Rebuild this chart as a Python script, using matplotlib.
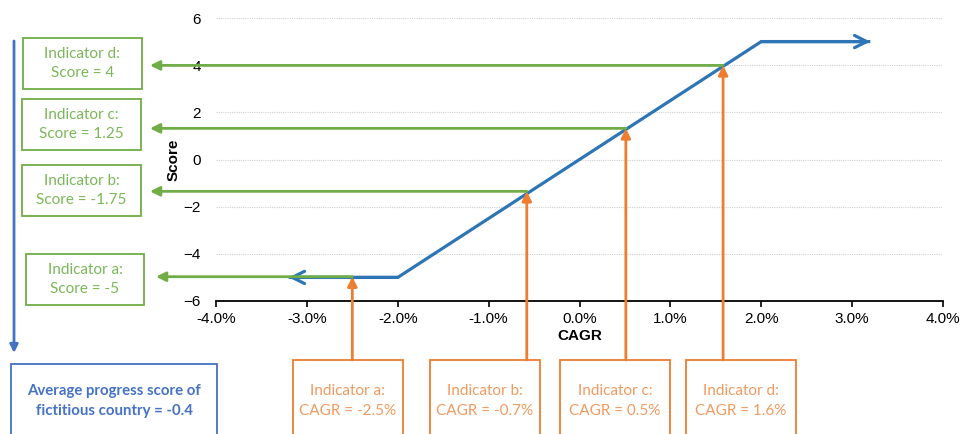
import matplotlib.pyplot as plt
from matplotlib.patches import Rectangle
from matplotlib.ticker import FuncFormatter

plt.rcParams['font.family'] = 'Liberation Sans'

# Score curve (CAGR in %, score)
curve_x = [-3.2, -2.0, 2.0, 3.2]
curve_y = [-5, -5, 5, 5]

# Indicator points as drawn on the curve
ind_names = ['a', 'b', 'c', 'd']
ind_cagr = [-2.5, -0.58, 0.51, 1.58]
ind_score = [-4.97, -1.35, 1.32, 3.99]
cagr_labels = ['-2.5%', '-0.7%', '0.5%', '1.6%']
score_labels = ['-5', '-1.75', '1.25', '4']
avg_score = '-0.4'

blue = '#2E75B6'
blue2 = '#4472C4'
green = '#70AD47'
green_txt = '#7AB758'
orange = '#ED7D31'
orange_txt = '#F09A60'
box_font = 'Lato'

W, H = 961, 434
fig = plt.figure(figsize=(W / 100, H / 100), dpi=100)
ax = fig.add_axes([216 / W, 1 - 301 / H, (943 - 216) / W, (301 - 18) / H])

ax.set_xlim(-4, 4)
ax.set_ylim(-6, 6)
ax.set_xticks(range(-4, 5))
ax.set_yticks(range(-6, 7, 2))
ax.xaxis.set_major_formatter(FuncFormatter(lambda v, p: f'{v:.1f}%'))
for s in ['top', 'right', 'left']:
    ax.spines[s].set_visible(False)
ax.spines['bottom'].set_linewidth(1.3)
ax.tick_params(axis='y', length=0, labelsize=11, pad=11)
ax.tick_params(axis='x', length=4, width=1.2, labelsize=11, pad=4)
for g in range(-4, 7, 2):
    ax.axhline(g, color='#d0d0d0', lw=0.8, ls=(0, (1, 1)), zorder=0)
ax.set_xlabel('CAGR', fontweight='bold', fontsize=11, labelpad=2)
ax.set_ylabel('Score', fontweight='bold', fontsize=11, labelpad=2)

# blue score curve with open arrow heads
ax.plot(curve_x, curve_y, color=blue, lw=2.3, solid_capstyle='butt', zorder=3)
for i0, i1 in [(1, 0), (2, 3)]:
    ax.annotate('', xy=(curve_x[i1], curve_y[i1]), xytext=(curve_x[i0], curve_y[i0]),
                arrowprops=dict(arrowstyle='->', color=blue, lw=2.3, mutation_scale=22,
                                shrinkA=0, shrinkB=0), annotation_clip=False, zorder=3)

# green arrows to the left, orange arrows from the bottom
green_tip = [156, 150, 150, 150]
for i in range(4):
    ax.annotate('', xy=(green_tip[i], ind_score[i]), xycoords=('figure pixels', 'data'),
                xytext=(ind_cagr[i], ind_score[i]), textcoords='data',
                arrowprops=dict(arrowstyle='-|>', color=green, lw=2, mutation_scale=14,
                                shrinkA=0, shrinkB=0), annotation_clip=False, zorder=4)
    ax.annotate('', xy=(ind_cagr[i], ind_score[i]), xycoords='data',
                xytext=(ind_cagr[i], H - 360), textcoords=('data', 'figure pixels'),
                arrowprops=dict(arrowstyle='-|>', color=orange, lw=2, mutation_scale=14,
                                shrinkA=0, shrinkB=0), annotation_clip=False, zorder=5)


def box(x0, y0, x1, y1, ec, lw=1.3):
    fig.patches.append(Rectangle((x0 / W, 1 - y1 / H), (x1 - x0) / W, (y1 - y0) / H,
                                 transform=fig.transFigure, fill=False, ec=ec, lw=lw))


# green score boxes (pixel layout)
green_boxes = {'d': (23, 38, 142, 89), 'c': (22, 99, 141, 150),
               'b': (22, 165, 141, 216), 'a': (26, 254, 144, 305)}
for i, n in enumerate(ind_names):
    x0, y0, x1, y1 = green_boxes[n]
    box(x0, y0, x1, y1, green)
    fig.text((x0 + x1) / 2 / W, 1 - ((y0 + y1) / 2) / H,
             f'Indicator {n}:\nScore = {score_labels[i]}', ha='center', va='center',
             color=green_txt, fontsize=11, family=box_font, linespacing=1.5)

# orange CAGR boxes
orange_left = [293, 430, 560, 686]
for i, n in enumerate(ind_names):
    x0 = orange_left[i]
    box(x0, 360, x0 + 110, 440, orange)
    fig.text((x0 + 55) / W, 1 - 401 / H,
             f'Indicator {n}:\nCAGR = {cagr_labels[i]}', ha='center', va='center',
             color=orange_txt, fontsize=11, family=box_font, linespacing=1.5)

# blue average arrow and box
fig.add_artist(plt.Annotation('', xy=(14 / W, 1 - 353 / H), xycoords='figure fraction',
                              xytext=(14 / W, 1 - 41 / H), textcoords='figure fraction',
                              arrowprops=dict(arrowstyle='-|>', color=blue2, lw=2,
                                              mutation_scale=12, shrinkA=0, shrinkB=0)))
box(11, 364, 217, 440, blue2)
fig.text(114 / W, 1 - 401 / H, f'Average progress score of\nfictitious country = {avg_score}',
         ha='center', va='center', color=blue2, fontsize=10.8, family=box_font,
         fontweight='bold', linespacing=1.5)

fig.savefig('out.png', dpi=100)
